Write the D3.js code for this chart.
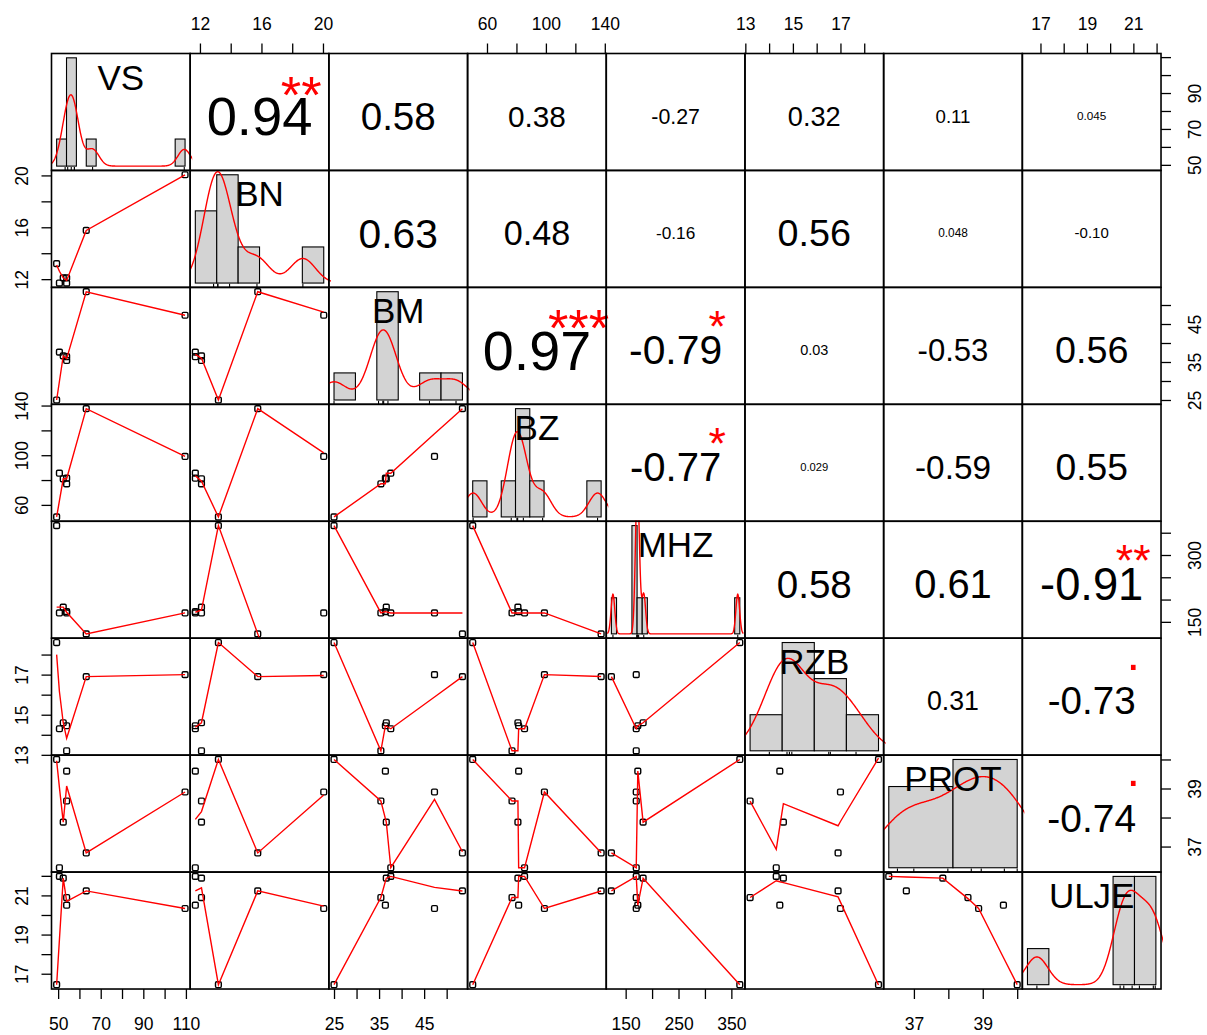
<!DOCTYPE html>
<html><head><meta charset="utf-8">
<script src="https://cdn.jsdelivr.net/npm/d3@7"></script>
<style>
body{margin:0;background:#fff}
svg{display:block}
</style>
</head><body>
<svg id="c" width="1207" height="1035"></svg>
<script>
// ---------------- DATA ----------------
const varNames = ["VS","BN","BM","BZ","MHZ","RZB","PROT","ULJE"];
const VS   = [49.3, 50.6, 52.4, 54.0, 54.0, 63.2, 109.6];
const BN   = [13.2, 11.7, 12.1, 12.1, 11.7, 15.76, 20.05];
const BM   = [25.0, 37.6, 36.6, 35.4, 36.4, 53.5, 47.3];
const BZ   = [50.3, 85.5, 81.0, 77.0, 81.5, 137.5, 99.0];
const MHZ  = [366, 170, 183, 170, 173, 123, 170];
const RZB  = [18.6, 14.3, 14.6, 13.2, 14.45, 16.9, 17.0];
const PROT = [40.0, 36.27, 37.84, 38.57, 39.6, 36.78, 38.88];
const ULJE = [16.44, 21.97, 21.88, 20.89, 20.5, 21.23, 20.33];

// correlation labels (upper triangle, row by row) and significance symbols
const corrLabels = [
  ["0.94","0.58","0.38","-0.27","0.32","0.11","0.045"],
  ["0.63","0.48","-0.16","0.56","0.048","-0.10"],
  ["0.97","-0.79","0.03","-0.53","0.56"],
  ["-0.77","0.029","-0.59","0.55"],
  ["0.58","0.61","-0.91"],
  ["0.31","-0.73"],
  ["-0.74"]
];
const corrSignif = [
  ["**","","","","","",""],
  ["","","","","",""],
  ["***","*","","",""],
  ["*","","",""],
  ["","","**"],
  ["","."],
  ["."]
];

// axis ticks and the labels that are printed
const tickVals = [
  [50,60,70,80,90,100,110],
  [12,14,16,18,20],
  [25,30,35,40,45,50],
  [60,80,100,120,140],
  [150,200,250,300,350],
  [13,14,15,16,17,18],
  [37,38,39,40],
  [17,18,19,20,21,22]
];
const colAxisLabels = [
  [50,70,90,110], [12,16,20], [25,35,45], [60,100,140],
  [150,250,350], [13,15,17], [37,39], [17,19,21]
];
const rowAxisLabels = [
  [50,70,90], [12,16,20], [25,35,45], [60,100,140],
  [150,300], [13,15,17], [37,39], [17,19,21]
];

// ---------------- helpers ----------------
const FONT = '"Liberation Sans", Arial, Helvetica, sans-serif';
const data = [VS,BN,BM,BZ,MHZ,RZB,PROT,ULJE];
const N = varNames.length;
const L = 51.5, T = 53.5, CW = 138.69, CH = 116.94;

function ext(lo, hi){ const r = hi - lo; return [lo - 0.04*r, hi + 0.04*r]; }

function rPretty(lo, up, ndiv, minN){
  const h = 1.5, h5 = 0.5 + 1.5*h;
  const dx = up - lo;
  let cell = ndiv > 1 ? dx/ndiv : dx;
  const base = Math.pow(10, Math.floor(Math.log10(cell)));
  let unit = base, t;
  if ((t = 2*base) - cell < h*(cell-unit)) { unit = t;
    if ((t = 5*base) - cell < h5*(cell-unit)) { unit = t;
      if ((t = 10*base) - cell < h*(cell-unit)) unit = t; } }
  const eps = 1e-10;
  let ns = Math.floor(lo/unit + eps), nu = Math.ceil(up/unit - eps);
  while (ns*unit > lo + eps*unit) ns--;
  while (nu*unit < up - eps*unit) nu++;
  let k = Math.floor(0.5 + nu - ns);
  if (k < minN) { k = minN - k;
    if (ns >= 0) { nu += Math.floor(k/2); ns -= Math.floor(k/2) + k%2; }
    else { ns -= Math.floor(k/2); nu += Math.floor(k/2) + k%2; } }
  const out = [];
  for (let i = ns; i <= nu; i++) out.push(+(i*unit).toPrecision(12));
  return out;
}
function iqr(v){ const s = v.slice().sort(d3.ascending); return d3.quantileSorted(s,0.75) - d3.quantileSorted(s,0.25); }
function nclassFD(v){
  const h = 2*iqr(v.map(d=>+d.toPrecision(5)));
  const r = d3.max(v) - d3.min(v);
  return h > 0 ? Math.ceil(r/(h*Math.pow(v.length,-1/3))) : 1;
}
function bwNrd0(v){
  const lo = Math.min(d3.deviation(v), iqr(v)/1.34);
  return 0.9*lo*Math.pow(v.length,-0.2);
}
function density(v){
  const bw = bwNrd0(v), n = v.length;
  const from = d3.min(v) - 3*bw, to = d3.max(v) + 3*bw;
  const pts = [];
  for (let i = 0; i < 512; i++){
    const t = from + (to-from)*i/511;
    let s = 0;
    for (const x of v){ const z = (t-x)/bw; s += Math.exp(-0.5*z*z); }
    pts.push([t, s/(n*bw*Math.sqrt(2*Math.PI))]);
  }
  return pts;
}
// R's clowess
function lowess(xIn, yIn, f = 2/3, nsteps = 3){
  const n = xIn.length;
  const idx = d3.range(n).sort((a,b)=> (xIn[a]-xIn[b]) || (a-b));
  const x = [0].concat(idx.map(i=>xIn[i]));
  const y = [0].concat(idx.map(i=>yIn[i]));
  const delta = 0.01*(x[n]-x[1]);
  const ys = new Array(n+1).fill(0), rw = new Array(n+1).fill(1),
        res = new Array(n+1).fill(0), w = new Array(n+1).fill(0);
  const ns = Math.max(2, Math.min(n, Math.floor(f*n + 1e-7)));
  function lowest(xs, nleft, nright, userw){
    const range = x[n]-x[1];
    const h = Math.max(xs - x[nleft], x[nright] - xs);
    const h9 = 0.999*h, h1 = 0.001*h;
    let a = 0, j = nleft;
    while (j <= n){
      w[j] = 0;
      const r = Math.abs(x[j]-xs);
      if (r <= h9){
        w[j] = r <= h1 ? 1 : Math.pow(1 - Math.pow(r/h,3), 3);
        if (userw) w[j] *= rw[j];
        a += w[j];
      } else if (x[j] > xs) break;
      j++;
    }
    const nrt = j-1;
    if (a <= 0) return null;
    for (j = nleft; j <= nrt; j++) w[j] /= a;
    if (h > 0){
      a = 0;
      for (j = nleft; j <= nrt; j++) a += w[j]*x[j];
      let b = xs - a, c = 0;
      for (j = nleft; j <= nrt; j++) c += w[j]*(x[j]-a)*(x[j]-a);
      if (Math.sqrt(c) > 0.001*range){
        b /= c;
        for (j = nleft; j <= nrt; j++) w[j] *= (b*(x[j]-a) + 1);
      }
    }
    let yv = 0;
    for (j = nleft; j <= nrt; j++) yv += w[j]*y[j];
    return yv;
  }
  let iter = 1;
  while (iter <= nsteps + 1){
    let nleft = 1, nright = ns, last = 0, i = 1;
    for (;;){
      if (nright < n){
        const d1 = x[i]-x[nleft], d2 = x[nright+1]-x[i];
        if (d1 > d2){ nleft++; nright++; continue; }
      }
      const r = lowest(x[i], nleft, nright, iter > 1);
      ys[i] = (r === null) ? y[i] : r;
      if (last < i-1){
        const denom = x[i]-x[last];
        for (let j = last+1; j < i; j++){
          const alpha = (x[j]-x[last])/denom;
          ys[j] = alpha*ys[i] + (1-alpha)*ys[last];
        }
      }
      last = i;
      const cut = x[last] + delta;
      for (i = last+1; i <= n; i++){
        if (x[i] > cut) break;
        if (x[i] === x[last]){ ys[i] = ys[last]; last = i; }
      }
      i = Math.max(last+1, i-1);
      if (last >= n) break;
    }
    let sc = 0;
    for (let k = 1; k <= n; k++){ res[k] = y[k]-ys[k]; sc += Math.abs(res[k]); }
    sc /= n;
    if (iter > nsteps) break;
    const ar = res.slice(1).map(Math.abs).sort((a,b)=>a-b);
    const m1 = Math.floor(n/2);
    const cmad = (n%2 === 0) ? 3*(ar[m1]+ar[n-m1-1]) : 6*ar[m1];
    if (cmad < 1e-7*sc) break;
    const c9 = 0.999*cmad, c1 = 0.001*cmad;
    for (let k = 1; k <= n; k++){
      const r = Math.abs(res[k]);
      rw[k] = r <= c1 ? 1 : (r <= c9 ? Math.pow(1 - Math.pow(r/cmad,2), 2) : 0);
    }
    iter++;
  }
  return d3.range(1, n+1).map(k => [x[k], ys[k]]);
}

// ---------------- drawing ----------------
const svg = d3.select("#c");
svg.append("rect").attr("width",1207).attr("height",1035).attr("fill","#fff");
const defs = svg.append("defs");

const xS = data.map((v,j)=> d3.scaleLinear().domain(ext(d3.min(v), d3.max(v))).range([L+j*CW, L+(j+1)*CW]));
const yS = data.map((v,i)=> d3.scaleLinear().domain(ext(d3.min(v), d3.max(v))).range([T+(i+1)*CH, T+i*CH]));

// text width measurement
const meas = svg.append("text").attr("font-family",FONT).attr("font-size",100).attr("x",-1000).attr("y",-1000);
function width100(s){ meas.text(s); return meas.node().getComputedTextLength(); }

const DY = 4;         // vertical offset of text anchors
const LABEL_SIZE = 35, AXIS_SIZE = 17.5;

for (let i = 0; i < N; i++){
  for (let j = 0; j < N; j++){
    const x0 = L + j*CW, y0 = T + i*CH;
    const g = svg.append("g");
    const cid = `clip${i}_${j}`;
    defs.append("clipPath").attr("id",cid).append("rect")
      .attr("x",x0).attr("y",y0-1).attr("width",CW+2).attr("height",CH+2);
    if (i === j){
      const v = data[i];
      const nc = nclassFD(v);
      const br = rPretty(d3.min(v), d3.max(v), nc, 1);
      const counts = new Array(br.length-1).fill(0);
      v.forEach(val => {
        for (let k = 0; k < br.length-1; k++){
          if ((val > br[k] || (k === 0 && val >= br[0])) && val <= br[k+1]){ counts[k]++; break; }
        }
      });
      const dens = counts.map((c,k)=> c/(v.length*(br[k+1]-br[k])));
      const mx = d3.max(dens);
      const hx = d3.scaleLinear().domain(ext(br[0], br[br.length-1])).range([x0, x0+CW]);
      const hy = d3.scaleLinear().domain(ext(0, mx)).range([y0+CH, y0]);
      g.selectAll("rect.bar").data(counts.map((c,k)=>({k,d:dens[k]})).filter(d=>d.d>0)).join("rect")
        .attr("x",d=>hx(br[d.k])).attr("width",d=>hx(br[d.k+1])-hx(br[d.k]))
        .attr("y",d=>hy(d.d)).attr("height",d=>hy(0)-hy(d.d))
        .attr("fill","#d3d3d3").attr("stroke","#000").attr("stroke-width",1.1);
      g.append("path").datum(density(v)).attr("clip-path",`url(#${cid})`)
        .attr("d", d3.line().x(d=>hx(d[0])).y(d=>hy(d[1])))
        .attr("fill","none").attr("stroke","#ff0000").attr("stroke-width",1.4);
      g.selectAll("line.rug").data(v).join("line")
        .attr("x1",d=>hx(d)).attr("x2",d=>hx(d))
        .attr("y1",y0+CH).attr("y2",y0+CH-0.03*CH)
        .attr("stroke","#000").attr("stroke-width",1.1);
      g.append("text").text(varNames[i])
        .attr("x", x0 + CW/2).attr("y", y0 + CH*(1-0.8333) + DY + 0.358*LABEL_SIZE)
        .attr("text-anchor","middle").attr("font-family",FONT).attr("font-size",LABEL_SIZE).attr("fill","#000");
    } else if (i > j){
      const xv = data[j], yv = data[i];
      g.selectAll("rect.pt").data(d3.range(xv.length)).join("rect")
        .attr("x",k=>xS[j](xv[k])-2.9).attr("y",k=>yS[i](yv[k])-2.9)
        .attr("width",5.8).attr("height",5.8).attr("rx",1.3)
        .attr("fill","none").attr("stroke","#000").attr("stroke-width",1.4);
      g.append("path").datum(lowess(xv, yv)).attr("clip-path",`url(#${cid})`)
        .attr("d", d3.line().x(d=>xS[j](d[0])).y(d=>yS[i](d[1])))
        .attr("fill","none").attr("stroke","#ff0000").attr("stroke-width",1.4);
    } else {
      const txt = corrLabels[i][j-i-1];
      const sig = corrSignif[i][j-i-1];
      const r = Math.abs(parseFloat(txt));
      const base = 100*0.8*CW/width100(txt);
      const fs = base*(r+0.3)/1.3;
      g.append("text").text(txt)
        .attr("x", x0 + CW/2).attr("y", y0 + CH/2 + DY + 0.358*fs)
        .attr("text-anchor","middle").attr("font-family",FONT).attr("font-size",fs).attr("fill","#000");
      if (sig){
        const sfs = sig === "." ? base : base*0.92;
        const off = sig === "." ? 0.05*sfs : 0.575*sfs;
        g.append("text").text(sig)
          .attr("x", x0 + 0.8*CW).attr("y", y0 + 0.2*CH + 5.5 + off)
          .attr("text-anchor","middle").attr("font-family",FONT).attr("font-size",sfs).attr("fill","#ff0000");
      }
    }
    g.append("rect").attr("x",x0).attr("y",y0).attr("width",CW).attr("height",CH)
      .attr("fill","none").attr("stroke","#000").attr("stroke-width",1.6);
  }
}
meas.remove();

// ---------------- axes ----------------
function styleAxis(g){
  g.select(".domain").remove();
  g.attr("font-family",FONT).attr("font-size",AXIS_SIZE);
  g.selectAll(".tick line").attr("stroke","#000").attr("stroke-width",1.3);
  g.selectAll(".tick text").attr("fill","#000");
}
for (let j = 0; j < N; j++){
  const labs = colAxisLabels[j];
  const fmt = d => labs.includes(d) ? String(d) : "";
  if (j % 2 === 1){
    const g = svg.append("g").attr("transform",`translate(0,${T})`)
      .call(d3.axisTop(xS[j]).tickValues(tickVals[j]).tickSize(10).tickSizeOuter(0).tickFormat(fmt));
    styleAxis(g);
    g.selectAll(".tick text").attr("y",-23.5).attr("dy",0);
  } else {
    const g = svg.append("g").attr("transform",`translate(0,${T+N*CH})`)
      .call(d3.axisBottom(xS[j]).tickValues(tickVals[j]).tickSize(10).tickSizeOuter(0).tickFormat(fmt));
    styleAxis(g);
    g.selectAll(".tick text").attr("y",40.5).attr("dy",0);
  }
}
for (let i = 0; i < N; i++){
  const labs = rowAxisLabels[i];
  const fmt = d => labs.includes(d) ? String(d) : "";
  if (i % 2 === 1){
    const g = svg.append("g").attr("transform",`translate(${L},0)`)
      .call(d3.axisLeft(yS[i]).tickValues(tickVals[i]).tickSize(10).tickSizeOuter(0).tickFormat(fmt));
    styleAxis(g);
    g.selectAll(".tick text").attr("transform","rotate(-90)").attr("x",0).attr("y",-23.5).attr("dy",0).attr("text-anchor","middle");
  } else {
    const g = svg.append("g").attr("transform",`translate(${L+N*CW},0)`)
      .call(d3.axisRight(yS[i]).tickValues(tickVals[i]).tickSize(10).tickSizeOuter(0).tickFormat(fmt));
    styleAxis(g);
    g.selectAll(".tick text").attr("transform","rotate(-90)").attr("x",0).attr("y",40).attr("dy",0).attr("text-anchor","middle");
  }
}
</script>
</body></html>
